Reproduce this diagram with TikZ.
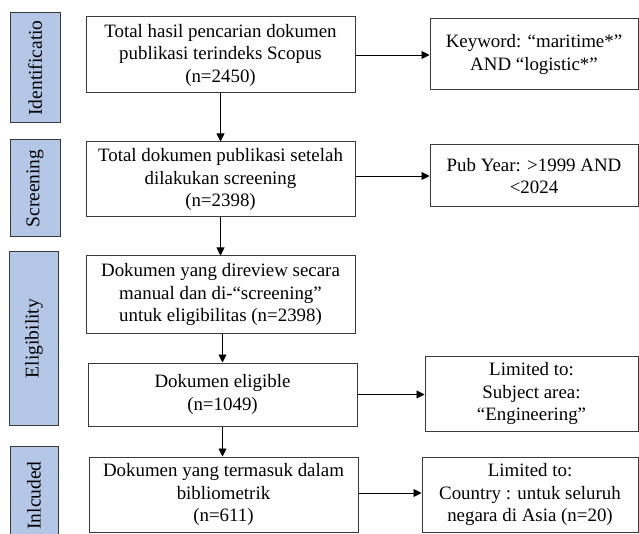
\documentclass[tikz,border=0pt]{standalone}
\usepackage{fontspec}
\setmainfont{Liberation Serif}
\usetikzlibrary{arrows.meta}
\definecolor{sidefill}{HTML}{B4C7E7}
\definecolor{edgecol}{HTML}{3A3A3A}
\begin{document}
\begin{tikzpicture}[x=1pt,y=-1pt,
  box/.style={draw=edgecol, line width=1pt, fill=white, inner sep=0pt, align=center,
    font=\fontsize{18.9}{22.5}\selectfont},
  side/.style={draw=edgecol, line width=1pt, fill=sidefill, inner sep=0pt, rotate=90,
    font=\fontsize{19.5}{22.5}\selectfont},
  arr/.style={-{Triangle[length=8pt,width=8pt]}, line width=0.9pt, black}]
\useasboundingbox (0,0) rectangle (639,534);
\clip (0,0) rectangle (639,534);
% side labels
\node[side, minimum width=110pt, minimum height=50pt] (s1) at (35,68) {Identificatio};
\node[side, minimum width=97pt, minimum height=50pt] (s2) at (35,188.5) {Screening};
\node[side, minimum width=173pt, minimum height=49pt] (s3) at (34,338.5) {Eligibility};
\node[side, minimum width=99pt, minimum height=48pt] (s4) at (34,495.5) {Inlcuded};
% main boxes
\node[box, minimum width=269pt, minimum height=76pt] (b1) at (220.5,55)
  {Total hasil pencarian dokumen\\publikasi terindeks Scopus\\(n=2450)};
\node[box, minimum width=269pt, minimum height=75pt] (b2) at (220.5,179.5)
  {Total dokumen publikasi setelah\\dilakukan screening\\(n=2398)};
\node[box, minimum width=269pt, minimum height=77pt] (b3) at (220.5,294.5)
  {Dokumen yang direview secara\\manual dan di-“screening”\\untuk eligibilitas (n=2398)};
\node[box, minimum width=269pt, minimum height=63pt] (b4) at (222.5,394.5)
  {Dokumen eligible\\(n=1049)};
\node[box, minimum width=269pt, minimum height=75pt] (b5) at (223.5,494.5)
  {Dokumen yang termasuk dalam\\bibliometrik\\(n=611)};
% right boxes
\node[box, minimum width=208pt, minimum height=71pt] (r1) at (534,54.5)
  {Keyword: “maritime*”\\AND “logistic*”};
\node[box, minimum width=208pt, minimum height=62pt] (r2) at (534,176)
  {Pub Year: >1999 AND\\<2024};
\node[box, minimum width=213pt, minimum height=75pt] (r3) at (531.5,393.5)
  {Limited to:\\Subject area:\\“Engineering”};
\node[box, minimum width=216pt, minimum height=75pt] (r4) at (530,494.5)
  {Limited to:\\Country : untuk seluruh\\negara di Asia (n=20)};
% vertical arrows
\draw[arr] (b1.south) -- (b2.north);
\draw[arr] (b2.south) -- (b3.north);
\draw[arr] (b3.south) ++(2,0) coordinate (c3) -- (c3 |- b4.north);
\draw[arr] (b4.south) -- (b4.south |- b5.north);
% horizontal arrows
\draw[arr] (b1.east) -- (b1.east -| r1.west);
\draw[arr] (r2.west -| b2.east) -- (r2.west);
\draw[arr] (b4.east) -- (b4.east -| r3.west);
\draw[arr] (r4.west -| b5.east) ++(0,-1.5) coordinate (c5) -- (c5 -| r4.west);
\end{tikzpicture}
\end{document}
